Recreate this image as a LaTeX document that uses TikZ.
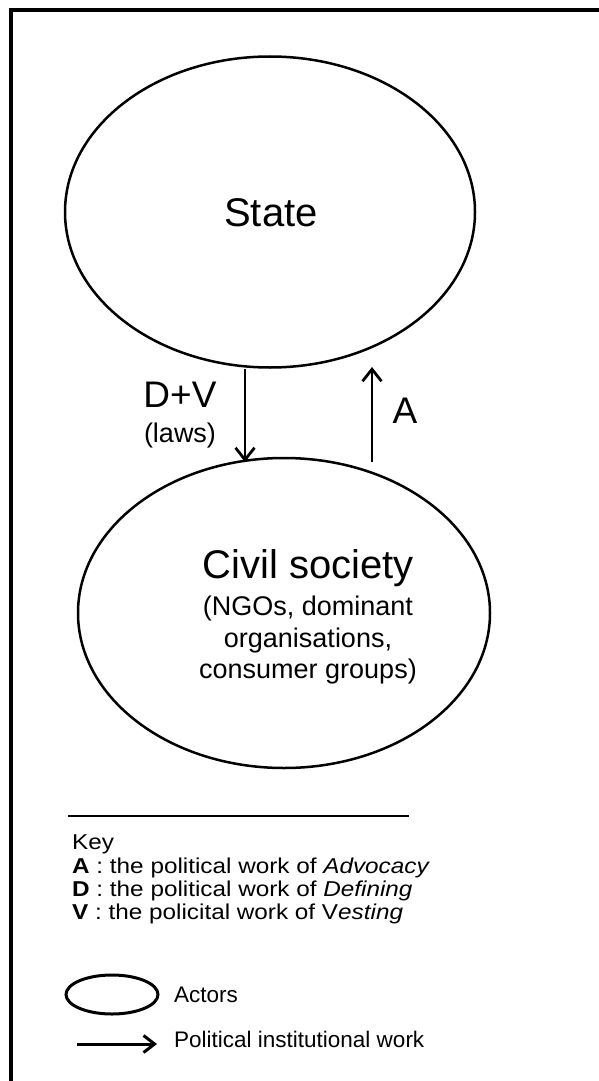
\documentclass[tikz,border=0pt]{standalone}
\usepackage{fontspec}
\setmainfont{Liberation Sans}
\newfontfamily\keyfont{Liberation Sans}[FakeStretch=1.13]
\usetikzlibrary{arrows.meta,shapes.geometric}
\begin{document}
\begin{tikzpicture}[x=1pt,y=-1pt,
  actor/.style={draw, ellipse, line width=2.5pt, inner sep=0pt},
  flow/.style={line width=2.8pt, -{Straight Barb[length=12pt,width=19pt]}},
  big/.style={inner sep=0pt, anchor=base, font=\fontsize{40}{42}\selectfont},
  lab/.style={inner sep=0pt, anchor=base, font=\fontsize{37}{40}\selectfont},
  mid/.style={inner sep=0pt, anchor=base, font=\fontsize{27}{30}\selectfont},
  keytxt/.style={inner sep=0pt, anchor=base west, font=\keyfont\fontsize{21.5}{24}\selectfont},
  legtxt/.style={inner sep=0pt, anchor=base west, font=\fontsize{22.5}{25}\selectfont}]
\useasboundingbox (0,0) rectangle (599,1081);
% frame (top and left edges visible)
\draw[line width=4pt] (10.5,1081) -- (10.5,10.5) -- (599,10.5);
% actors
\node[actor, minimum width=410pt, minimum height=311pt] (state) at (270,212) {};
\node[actor, minimum width=412pt, minimum height=310pt] (civil) at (284,613) {};
\node[big] (statetxt) at (271,226) {State};
\node[big] (civiltxt) at (308,578) {Civil society};
\node[mid] (c1) at (308,615) {(NGOs, dominant};
\node[mid] (c2) at (308,647) {organisations,};
\node[mid] (c3) at (308,678) {consumer groups)};
% connectors
\coordinate (dtop) at (245,369);
\coordinate (dbot) at (245,462);
\coordinate (utop) at (372,367);
\coordinate (ubot) at (372,462);
\draw[flow] (dtop) -- (dbot);
\draw[flow] (ubot) -- (utop);
\node[lab] (dv) at (180,407) {D+V};
\node[mid] (laws) at (180,442) {(laws)};
\node[lab] (alab) at (405,423) {A};
% key
\coordinate (kl) at (68,816);
\coordinate (kr) at (409,816);
\draw[line width=2.5pt] (kl) -- (kr);
\node[keytxt] (key) at (72,849) {Key};
\node[keytxt] (ka) at (72,873) {\textbf{A} : the political work of \textit{Advocacy}};
\node[keytxt] (kd) at (72,896) {\textbf{D} : the political work of \textit{Defining}};
\node[keytxt] (kv) at (72,919) {\textbf{V} : the policital work of V\textit{esting}};
\node[actor, line width=3pt, minimum width=92pt, minimum height=39pt] (legell) at (112,994.5) {};
\node[legtxt] (actors) at (174,1002) {Actors};
\coordinate (la1) at (77,1044);
\coordinate (la2) at (157,1044);
\draw[line width=3pt, -{Straight Barb[length=11pt,width=17pt]}] (la1) -- (la2);
\node[legtxt] (piw) at (174,1047) {Political institutional work};
\end{tikzpicture}
\end{document}
